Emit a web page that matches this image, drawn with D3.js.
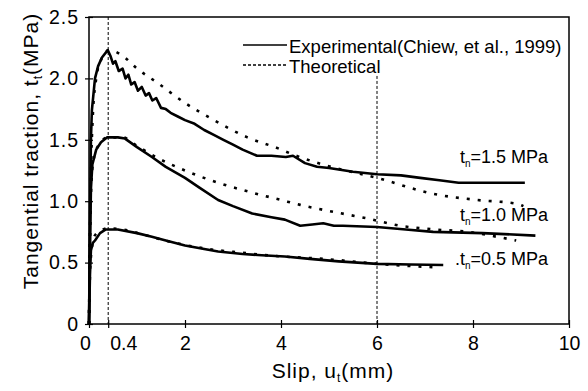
<!DOCTYPE html>
<html>
<head>
<meta charset="utf-8">
<script src="https://cdn.jsdelivr.net/npm/d3@7"></script>
<style>
    body { margin: 0; background: #fff; }
    svg { display: block; font-family: "Liberation Sans", Arial, sans-serif; }
</style>
</head>
<body>
<svg id="chart" width="588" height="391"></svg>
<script>
// slip (mm), tangential traction (MPa)
var exp15 = [[0,0],[0.02,0.8],[0.04,1.5],[0.06,1.74],[0.125,2.0],[0.19,2.1],[0.27,2.17],[0.39,2.23],
    [0.45,2.18],[0.5,2.12],[0.55,2.14],[0.62,2.06],[0.7,2.08],[0.76,2.0],[0.82,2.03],[0.88,1.95],
    [0.95,1.97],[1.02,1.9],[1.1,1.93],[1.18,1.86],[1.25,1.88],[1.32,1.82],[1.4,1.84],[1.5,1.76],
    [1.6,1.75],[1.7,1.72],[1.85,1.69],[2.0,1.66],[2.2,1.63],[2.4,1.58],[2.6,1.54],[2.8,1.5],
    [3.0,1.46],[3.2,1.42],[3.5,1.37],[3.8,1.37],[4.1,1.36],[4.25,1.37],[4.5,1.31],[4.75,1.28],
    [5.0,1.27],[5.5,1.24],[6.0,1.22],[6.5,1.21],[6.9,1.19],[7.3,1.17],[7.7,1.15],[8.0,1.15],
    [8.5,1.15],[9.08,1.15]];
var theo15 = [[0,0],[0.03,1.0],[0.08,1.7],[0.15,2.0],[0.25,2.15],[0.42,2.23],[0.68,2.19],[1.0,2.08],
    [1.44,1.96],[2.0,1.8],[2.56,1.67],[3.3,1.52],[3.94,1.43],[4.25,1.38],[4.95,1.29],[6.0,1.19],
    [7.17,1.06],[8.08,1.01],[8.9,0.98],[9.05,0.96]];
var exp10 = [[0,0],[0.02,0.6],[0.04,1.1],[0.07,1.3],[0.15,1.42],[0.25,1.48],[0.38,1.52],[0.6,1.52],
    [0.75,1.51],[1.0,1.44],[1.31,1.36],[1.6,1.28],[2.0,1.19],[2.3,1.11],[2.69,1.01],[3.0,0.96],
    [3.4,0.9],[3.8,0.87],[4.08,0.85],[4.4,0.8],[4.65,0.81],[4.88,0.82],[5.1,0.8],[5.29,0.8],
    [6.0,0.79],[6.6,0.77],[7.17,0.75],[8.2,0.74],[9.3,0.72]];
var theo10 = [[0,0],[0.03,0.9],[0.08,1.3],[0.19,1.45],[0.4,1.52],[0.7,1.52],[1.0,1.45],[1.44,1.35],
    [2.0,1.25],[2.69,1.15],[3.4,1.07],[4.0,1.01],[4.4,0.97],[5.0,0.92],[5.79,0.86],[6.48,0.8],
    [7.2,0.77],[7.9,0.75],[8.5,0.71],[8.9,0.68]];
var exp05 = [[0,0],[0.02,0.4],[0.04,0.6],[0.08,0.66],[0.125,0.68],[0.23,0.74],[0.35,0.77],[0.6,0.77],
    [1.0,0.74],[1.31,0.71],[1.6,0.68],[2.0,0.64],[2.4,0.61],[2.69,0.59],[3.2,0.57],[3.6,0.56],
    [4.08,0.55],[4.6,0.53],[5.2,0.51],[6.0,0.49],[6.7,0.485],[7.38,0.48]];
var theo05 = [[0,0],[0.03,0.5],[0.12,0.72],[0.25,0.76],[0.38,0.78],[0.7,0.77],[1.2,0.72],[1.8,0.66],
    [2.5,0.61],[3.2,0.58],[4.0,0.55],[4.5,0.54],[5.2,0.52],[6.0,0.49],[6.8,0.47],[7.3,0.46]];

var xTicks = [0, 0.4, 2, 4, 6, 8, 10],
    yTicks = [0, 0.5, 1.0, 1.5, 2.0, 2.5],
    markers = [0.4, 6],
    curveLabels = ["1.5", "1.0", "0.5"];

var svg = d3.select("#chart"),
    x = d3.scaleLinear().domain([0, 10]).range([89, 569]),
    y = d3.scaleLinear().domain([0, 2.5]).range([324, 17]);

// vertical dashed markers (0.4 full height, 6 stops under legend)
svg.selectAll(".marker")
    .data(markers)
    .enter().append("line")
    .attr("x1", function(d) { return x(d); })
    .attr("x2", function(d) { return x(d); })
    .attr("y1", function(d) { return d === 6 ? y(2.02) : y(2.5); })
    .attr("y2", y(0))
    .attr("stroke", "#000")
    .attr("stroke-width", 1)
    .attr("stroke-dasharray", "3,2");

// axes
var xAxis = svg.append("g")
    .attr("transform", "translate(0," + y(0) + ")")
    .call(d3.axisBottom(x).tickValues(xTicks).tickSizeInner(4).tickSizeOuter(0).tickPadding(8)
        .tickFormat(function(d) { return d3.format("")(d); }));
xAxis.select(".domain").remove();
xAxis.selectAll(".tick line").attr("y1", -4).attr("stroke-width", 1.2);
xAxis.selectAll(".tick text")
    .attr("font-size", 19.5)
    .attr("font-family", "Liberation Sans, Arial, sans-serif")
    .attr("dx", function(d) { return d === 0 ? -4 : (d === 0.4 ? 15 : 0); });

var yAxis = svg.append("g")
    .attr("transform", "translate(" + x(0) + ",0)")
    .call(d3.axisLeft(y).tickValues(yTicks).tickSizeInner(4).tickSizeOuter(0).tickPadding(6)
        .tickFormat(function(d) { return d === 0 ? "0" : d3.format(".1f")(d); }));
yAxis.select(".domain").remove();
yAxis.selectAll(".tick line").attr("x1", 4).attr("stroke-width", 1.2);
yAxis.selectAll(".tick text")
    .attr("font-size", 19.5)
    .attr("letter-spacing", 1)
    .attr("font-family", "Liberation Sans, Arial, sans-serif");

// frame
svg.append("rect")
    .attr("x", x(0)).attr("y", y(2.5))
    .attr("width", x(10) - x(0)).attr("height", y(0) - y(2.5))
    .attr("fill", "none").attr("stroke", "#000").attr("stroke-width", 1.5);

var expLine = d3.line()
    .x(function(d) { return x(d[0]); })
    .y(function(d) { return y(d[1]); });
var theoLine = d3.line()
    .x(function(d) { return x(d[0]); })
    .y(function(d) { return y(d[1]); })
    .curve(d3.curveMonotoneX);

[theo15, theo10, theo05].forEach(function(s) {
    svg.append("path").attr("d", theoLine(s))
        .attr("fill", "none").attr("stroke", "#000")
        .attr("stroke-width", 2.6).attr("stroke-dasharray", "3,8");
});
[exp15, exp10, exp05].forEach(function(s) {
    svg.append("path").attr("d", expLine(s))
        .attr("fill", "none").attr("stroke", "#000")
        .attr("stroke-width", 2.6).attr("stroke-linejoin", "round");
});

// legend
var legend = svg.append("g").attr("font-size", 18.5);
legend.append("line").attr("x1", 243).attr("x2", 287).attr("y1", 45).attr("y2", 45)
    .attr("stroke", "#000").attr("stroke-width", 1.5);
legend.append("text").attr("x", 289).attr("y", 53).text("Experimental(Chiew, et al., 1999)");
legend.append("line").attr("x1", 243).attr("x2", 287).attr("y1", 65).attr("y2", 65)
    .attr("stroke", "#000").attr("stroke-width", 1.5).attr("stroke-dasharray", "3,2");
legend.append("text").attr("x", 289).attr("y", 73).text("Theoretical");

// curve labels
var labelY = [163, 221, 265];
curveLabels.forEach(function(v, i) {
    var t = svg.append("text").attr("x", 548).attr("y", labelY[i])
        .attr("text-anchor", "end").attr("font-size", 18);
    t.append("tspan").text(i === 2 ? ".t" : "t");
    t.append("tspan").attr("font-size", 10).attr("dy", 4).text("n");
    t.append("tspan").attr("dy", -4).text("=" + v + " MPa");
});

// axis titles
var xt = svg.append("text").attr("x", 333).attr("y", 378)
    .attr("text-anchor", "middle").attr("font-size", 21).attr("letter-spacing", 1);
xt.append("tspan").text("Slip, u");
xt.append("tspan").attr("font-size", 12).attr("dy", 4).text("t");
xt.append("tspan").attr("dy", -4).text("(mm)");

var yt = svg.append("text").attr("transform", "translate(38,151) rotate(-90)")
    .attr("text-anchor", "middle").attr("font-size", 21).attr("letter-spacing", 1);
yt.append("tspan").text("Tangential traction, t");
yt.append("tspan").attr("font-size", 12).attr("dy", 4).text("t");
yt.append("tspan").attr("dy", -4).text("(MPa)");
</script>
</body>
</html>
